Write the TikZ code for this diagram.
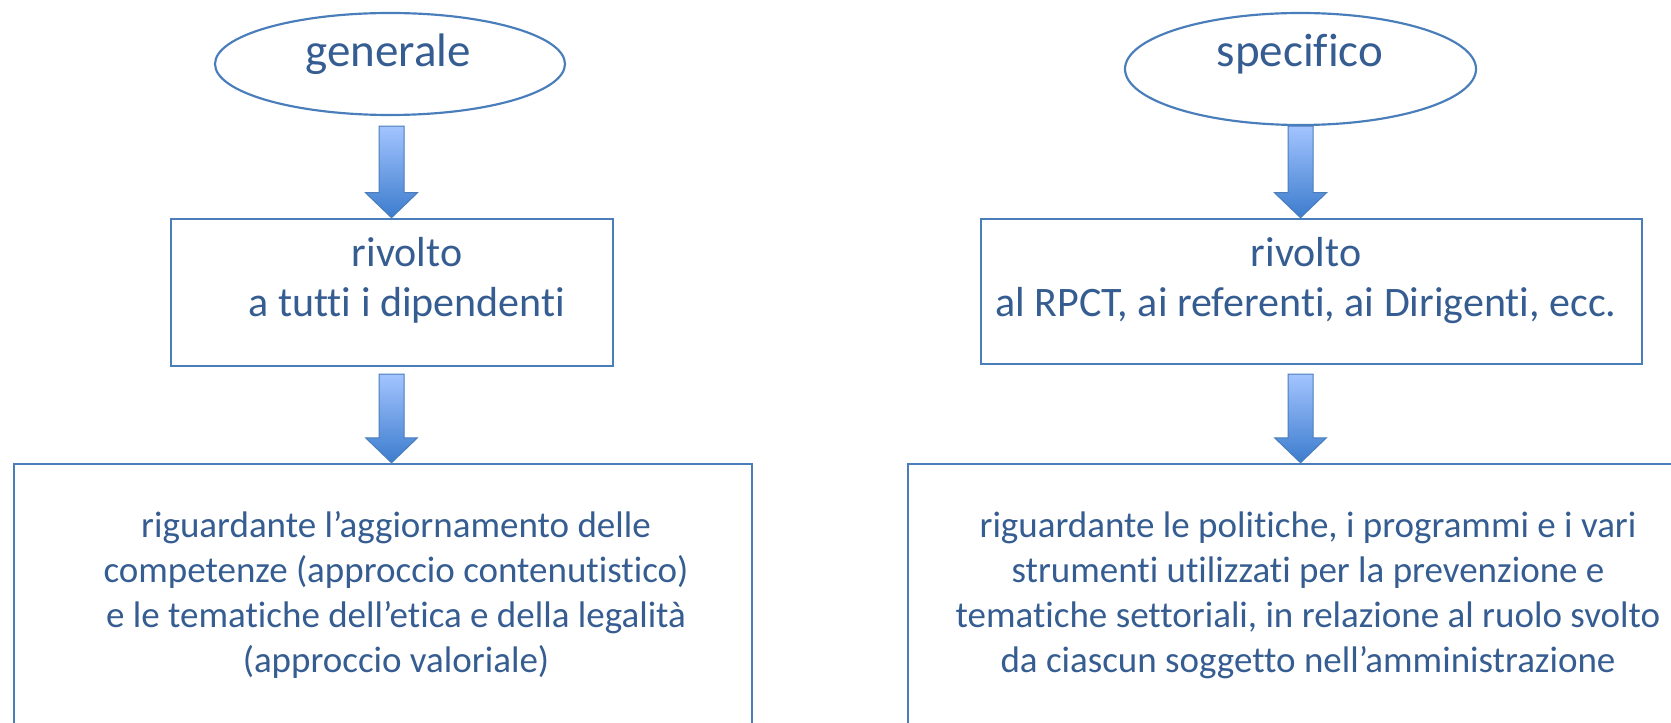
\documentclass[tikz,border=0pt]{standalone}
\usepackage{fontspec}
\setmainfont{Carlito}[Ligatures={NoCommon,NoContextual}]
\usetikzlibrary{shapes.geometric,calc}
\definecolor{linec}{RGB}{74,126,187}
\definecolor{textc}{RGB}{54,93,145}
\definecolor{arrtop}{RGB}{163,196,255}
\definecolor{arrbot}{RGB}{60,124,205}
\newcommand{\blockarrow}[2]{%
  \path[blockarr] ($(#1)+(-12.5,0)$) -- ($(#1)+(12.5,0)$) -- ($(#2)+(12.5,-25)$) -- ($(#2)+(26,-25)$) -- (#2) -- ($(#2)+(-26,-25)$) -- ($(#2)+(-12.5,-25)$) -- cycle;}
\begin{document}
\begin{tikzpicture}[x=0.6pt,y=-0.6pt,
  oval/.style={ellipse,draw=linec,line width=1.3pt,inner sep=0pt},
  box/.style={rectangle,draw=linec,line width=1.5pt,inner sep=0pt},
  bigtxt/.style={text=textc,anchor=base,inner sep=0pt,font=\fontsize{28.2pt}{34pt}\selectfont},
  midtxt/.style={text=textc,anchor=base,inner sep=0pt,font=\fontsize{25.2pt}{30pt}\selectfont},
  smalltxt/.style={text=textc,anchor=base,inner sep=0pt,font=\fontsize{22.2pt}{27pt}\selectfont},
  blockarr/.style={draw=linec,line width=0.6pt,top color=arrtop,bottom color=arrbot}]
\useasboundingbox (0,0) rectangle (1671,723);
\clip (0,0) rectangle (1671,723);
% left column
\node[oval,minimum width=210pt,minimum height=61.2pt] (g) at (390,64) {};
\node[bigtxt] (gt) at (388,67) {generale};
\node[box,minimum width=265.2pt,minimum height=88.2pt] (b1) at (392,292.5) {};
\node[midtxt] (b1t) at (407,267) {\begin{tabular}[t]{@{}c@{}}rivolto\\ a tutti i dipendenti\end{tabular}};
\node[box,minimum width=442.8pt,minimum height=183.6pt] (b3) at (383,617) {};
\node[smalltxt] (b3t) at (396,537) {\begin{tabular}[t]{@{}c@{}}riguardante l’aggiornamento delle\\ competenze (approccio contenutistico)\\ e le tematiche dell’etica e della legalità\\ (approccio valoriale)\end{tabular}};
% right column
\node[oval,minimum width=210.6pt,minimum height=67.2pt] (s) at (1300.5,69) {};
\node[bigtxt] (st) at (1300,67) {specifico};
\node[box,minimum width=396.6pt,minimum height=87pt] (b2) at (1311.5,291.5) {};
\node[midtxt] (b2t) at (1306,267) {\begin{tabular}[t]{@{}c@{}}rivolto\\ al RPCT, ai referenti, ai Dirigenti, ecc.\end{tabular}};
\node[box,minimum width=475.2pt,minimum height=183.6pt] (b4) at (1304,617) {};
\node[smalltxt] (b4t) at (1308,537) {\begin{tabular}[t]{@{}c@{}}riguardante le politiche, i programmi e i vari\\ strumenti utilizzati per la prevenzione e\\ tematiche settoriali, in relazione al ruolo svolto\\ da ciascun soggetto nell’amministrazione\end{tabular}};
% arrows
\coordinate (a1s) at ($(g.south)+(1.5,10)$);
\coordinate (a1e) at (a1s |- b1.north);
\coordinate (a2s) at ($(a1s |- b1.south)+(0,7)$);
\coordinate (a2e) at (a2s |- b3.north);
\coordinate (a3s) at (s.south);
\coordinate (a3e) at (a3s |- b2.north);
\coordinate (a4s) at ($(a3s |- b2.south)+(0,9)$);
\coordinate (a4e) at (a4s |- b4.north);
\blockarrow{a1s}{a1e}
\blockarrow{a2s}{a2e}
\blockarrow{a3s}{a3e}
\blockarrow{a4s}{a4e}
\end{tikzpicture}
\end{document}
